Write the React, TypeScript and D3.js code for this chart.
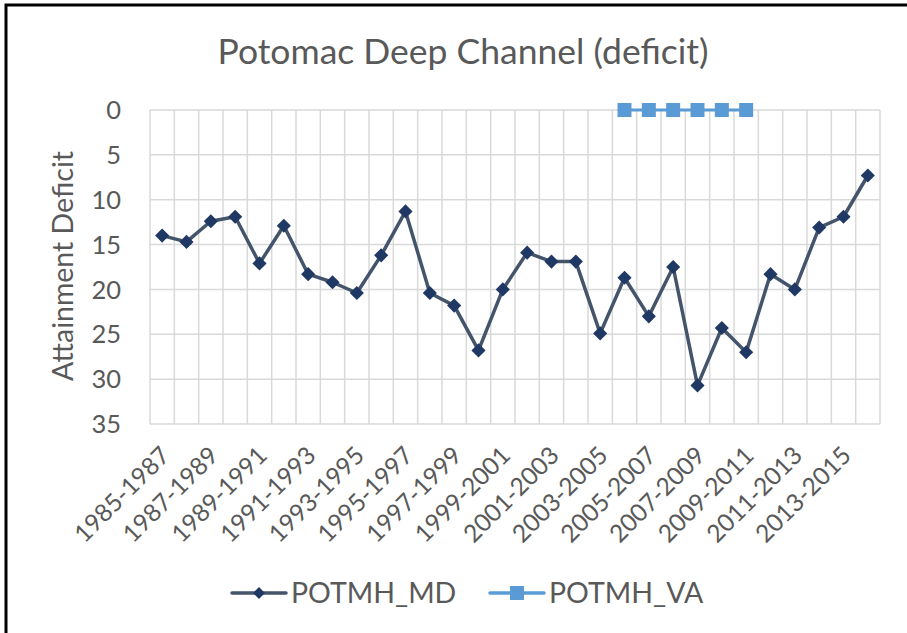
import { useEffect, useRef } from 'react'
import * as d3 from 'd3'

// three-year periods on the x axis
const periods = [
  '1985-1987', '1986-1988', '1987-1989', '1988-1990', '1989-1991', '1990-1992',
  '1991-1993', '1992-1994', '1993-1995', '1994-1996', '1995-1997', '1996-1998',
  '1997-1999', '1998-2000', '1999-2001', '2000-2002', '2001-2003', '2002-2004',
  '2003-2005', '2004-2006', '2005-2007', '2006-2008', '2007-2009', '2008-2010',
  '2009-2011', '2010-2012', '2011-2013', '2012-2014', '2013-2015', '2014-2016',
]

const potmhMD = [
  14.0, 14.7, 12.4, 11.9, 17.1, 12.9, 18.3, 19.2, 20.4, 16.2,
  11.3, 20.4, 21.8, 26.8, 20.0, 15.9, 16.9, 16.9, 24.9, 18.7,
  23.0, 17.5, 30.7, 24.3, 27.0, 18.3, 20.0, 13.1, 11.9, 7.3,
]

const potmhVA = [
  null, null, null, null, null, null, null, null, null, null,
  null, null, null, null, null, null, null, null, null, 0,
  0, 0, 0, 0, 0, null, null, null, null, null,
]

const yTicks = [0, 5, 10, 15, 20, 25, 30, 35]

const App = () => {
  const chart = useRef(null)

  const drawChart = () => {
    document.body.style.margin = '0'
    const font = 'Lato, "Noto Sans", sans-serif'
    const textColor = '#595959'
    const gridColor = '#D9D9D9'

    d3.select(chart.current).selectAll('*').remove()
    const svg = d3.select(chart.current)
      .append('svg')
      .attr('width', 907)
      .attr('height', 633)
      .style('display', 'block')
      .style('background', '#fff')

    // outer frame (only left and top visible)
    svg.append('path')
      .attr('d', 'M6,640 V5 H910')
      .attr('fill', 'none')
      .attr('stroke', '#000')
      .attr('stroke-width', 3)

    svg.append('text')
      .attr('x', 463)
      .attr('y', 64)
      .attr('text-anchor', 'middle')
      .style('font-family', font)
      .style('font-size', '35.5px')
      .style('fill', textColor)
      .text('Potomac Deep Channel (deficit)')

    const x = d3.scaleBand().domain(periods).range([150, 880])
    const y = d3.scaleLinear().domain([0, 35]).range([110, 424])
    const cx = (i) => x(periods[i]) + x.bandwidth() / 2

    // gridlines
    const grid = svg.append('g').attr('stroke', gridColor).attr('stroke-width', 1.5)
    grid.selectAll('line.h')
      .data(yTicks)
      .enter()
      .append('line')
      .attr('x1', 150)
      .attr('x2', 880)
      .attr('y1', d => y(d))
      .attr('y2', d => y(d))
    grid.selectAll('line.v')
      .data(d3.range(periods.length + 1))
      .enter()
      .append('line')
      .attr('x1', i => 150 + i * x.step())
      .attr('x2', i => 150 + i * x.step())
      .attr('y1', y(0))
      .attr('y2', y(35))

    // y tick labels
    svg.append('g')
      .selectAll('text')
      .data(yTicks)
      .enter()
      .append('text')
      .attr('x', 121)
      .attr('y', d => y(d))
      .attr('dy', '0.36em')
      .attr('text-anchor', 'end')
      .style('font-family', font)
      .style('font-size', '25.5px')
      .style('fill', textColor)
      .text(d => d)

    svg.append('text')
      .attr('transform', 'translate(73,266) rotate(-90)')
      .attr('text-anchor', 'middle')
      .style('font-family', font)
      .style('font-size', '28.5px')
      .style('fill', textColor)
      .text('Attainment Deficit')

    // x labels, every other period
    svg.append('g')
      .selectAll('text')
      .data(periods.filter((p, i) => i % 2 === 0))
      .enter()
      .append('text')
      .attr('transform', d => 'translate(' + (x(d) + x.bandwidth() / 2 + 3) + ',451) rotate(-45)')
      .attr('text-anchor', 'end')
      .attr('dy', '0.35em')
      .style('font-family', font)
      .style('font-size', '24.5px')
      .style('fill', textColor)
      .text(d => d)

    // VA series
    const vaPts = potmhVA.map((v, i) => [i, v]).filter(d => d[1] !== null)
    const line = d3.line().x(d => cx(d[0])).y(d => y(d[1]))
    svg.append('path')
      .attr('d', line(vaPts))
      .attr('fill', 'none')
      .attr('stroke', '#5B9BD5')
      .attr('stroke-width', 3)
    svg.append('g')
      .selectAll('path')
      .data(vaPts)
      .enter()
      .append('path')
      .attr('d', d3.symbol(d3.symbolSquare, 196))
      .attr('transform', d => 'translate(' + cx(d[0]) + ',' + y(d[1]) + ')')
      .attr('fill', '#5B9BD5')

    // MD series
    const mdPts = potmhMD.map((v, i) => [i, v])
    svg.append('path')
      .attr('d', line(mdPts))
      .attr('fill', 'none')
      .attr('stroke', '#44546A')
      .attr('stroke-width', 3.5)
      .attr('stroke-linejoin', 'round')
    svg.append('g')
      .selectAll('path')
      .data(mdPts)
      .enter()
      .append('path')
      .attr('d', d3.symbol(d3.symbolSquare, 100))
      .attr('transform', d => 'translate(' + cx(d[0]) + ',' + y(d[1]) + ') rotate(45)')
      .attr('fill', '#203864')

    // legend
    const legend = [
      {name: 'POTMH_MD', x: 232, stroke: '#44546A', fill: '#203864', shape: d3.symbolSquare, size: 70, rot: 45},
      {name: 'POTMH_VA', x: 490, stroke: '#5B9BD5', fill: '#5B9BD5', shape: d3.symbolSquare, size: 196, rot: 0},
    ]
    const lg = svg.append('g').selectAll('g').data(legend).enter().append('g')
      .attr('transform', d => 'translate(' + d.x + ',593)')
    lg.append('line')
      .attr('x1', 0).attr('x2', 54).attr('y1', 0).attr('y2', 0)
      .attr('stroke', d => d.stroke)
      .attr('stroke-width', 3.5)
      .attr('stroke-linecap', 'round')
    lg.append('path')
      .attr('d', d => d3.symbol(d.shape, d.size)())
      .attr('transform', d => 'translate(27,0) rotate(' + d.rot + ')')
      .attr('fill', d => d.fill)
    lg.append('text')
      .attr('x', 59)
      .attr('y', 0)
      .attr('dy', '0.36em')
      .style('font-family', font)
      .style('font-size', '28.5px')
      .style('fill', textColor)
      .text(d => d.name)
  }

  useEffect(() => {
    drawChart()
  }, [])

  return (
    <>
      <div ref={chart}></div>
    </>
  )
}

export default App
